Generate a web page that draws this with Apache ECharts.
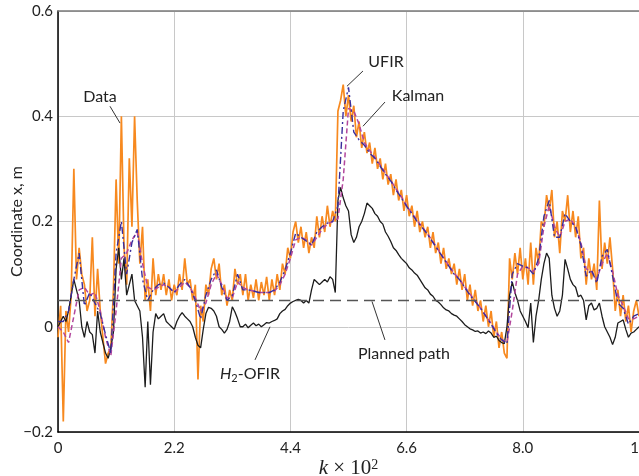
<!DOCTYPE html>
<html>
<head>
<meta charset="utf-8">
<script src="https://cdn.jsdelivr.net/npm/echarts@6.0.0/dist/echarts.min.js"></script>
<style>
  html, body { margin: 0; padding: 0; background: #fff; }
  #chart { width: 639px; height: 476px; }
</style>
</head>
<body>
<div id="chart"></div>
<script>
// x ticks (the original figure labels the 4th grid line "8.0")
const xTickLabels = ['0', '2.2', '4.4', '6.6', '8.0', '11'];
const yTickLabels = ['\u22120.2', '0', '0.2', '0.4', '0.6'];

// measured data, sampled every 0.05 (k x 10^2)
const dataStep = 0.05;
const measured = [
  -0.02, 0.04, -0.18, 0.03, -0.01, 0.06, 0.30, 0.09, 0.15, 0.10,
  0.08, 0.03, 0.05, 0.17, 0.02, 0.11, 0.03, -0.02, -0.07, -0.05,
  -0.04, 0.07, 0.28, 0.12, 0.40, 0.15, 0.08, 0.32, 0.19, 0.40,
  0.24, 0.12, 0.19, 0.05, 0.09, 0.03, 0.13, 0.06, 0.10, 0.07,
  0.10, 0.06, 0.09, 0.05, 0.08, 0.06, 0.10, 0.07, 0.13, 0.08,
  0.09, 0.05, 0.08, -0.10, 0.04, 0.01, 0.08, 0.06, 0.11, 0.13,
  0.09, 0.12, 0.06, 0.08, 0.04, 0.07, 0.05, 0.11, 0.08, 0.10,
  0.06, 0.10, 0.05, 0.08, 0.055, 0.09, 0.05, 0.085, 0.06, 0.095,
  0.05, 0.09, 0.06, 0.10, 0.07, 0.12, 0.10, 0.15, 0.13, 0.18,
  0.20, 0.16, 0.19, 0.15, 0.18, 0.14, 0.17, 0.15, 0.21, 0.17,
  0.21, 0.18, 0.23, 0.19, 0.22, 0.20, 0.41, 0.43, 0.46, 0.40,
  0.44, 0.39, 0.42, 0.36, 0.39, 0.34, 0.37, 0.33, 0.35, 0.31,
  0.34, 0.30, 0.32, 0.28, 0.31, 0.27, 0.29, 0.25, 0.28, 0.24,
  0.26, 0.22, 0.25, 0.21, 0.23, 0.19, 0.22, 0.18, 0.20, 0.17,
  0.19, 0.15, 0.18, 0.14, 0.16, 0.12, 0.15, 0.11, 0.13, 0.10,
  0.12, 0.08, 0.11, 0.07, 0.10, 0.05, 0.08, 0.04, 0.07, 0.03,
  0.05, 0.01, 0.04, 0.00, 0.03, -0.02, 0.01, -0.04, -0.01, -0.05,
  -0.06, 0.13, 0.09, 0.14, 0.10, 0.15, 0.09, 0.13, 0.08, 0.16,
  0.08, 0.15, 0.12, 0.20, 0.19, 0.25, 0.22, 0.26, 0.17, 0.20,
  0.14, 0.22, 0.20, 0.25, 0.18, 0.22, 0.17, 0.21, 0.13, 0.15,
  0.08, 0.13, 0.09, 0.12, 0.07, 0.24, 0.11, 0.16, 0.12, 0.17,
  0.11, 0.03, 0.07, 0.02, 0.06, 0.01, 0.04, -0.01, 0.03, 0.05,
  0.02
];

// H2-OFIR estimate, every 0.05
const h2ofir = [
  0.0, 0.01, 0.02, 0.01, 0.03, 0.06, 0.09, 0.07, 0.05, 0.0,
  -0.02, 0.01, -0.01, -0.015, -0.05, 0.03, -0.01, -0.03, -0.05, -0.06,
  -0.04, -0.01, 0.11, 0.15, 0.09, 0.13, 0.06, 0.08, 0.10, 0.05,
  0.04, 0.03, -0.02, -0.115, 0.01, -0.11, -0.01, 0.025, 0.015, 0.02,
  0.025, 0.01, 0.005, 0.0, -0.005, 0.01, 0.02, 0.027, 0.02, 0.015,
  0.01, 0.0, -0.02, -0.035, -0.04, -0.005, 0.025, 0.037, 0.035, 0.03,
  0.02, 0.0, -0.005, -0.012, -0.005, 0.01, 0.038, 0.028, 0.015, 0.0,
  0.0, 0.005, -0.002, 0.003, 0.007, 0.002, 0.005, 0.0, 0.004, 0.008,
  0.007, 0.01, 0.012, 0.015, 0.025, 0.03, 0.033, 0.04, 0.045, 0.048,
  0.05, 0.052, 0.05, 0.045, 0.05, 0.045, 0.07, 0.09, 0.085, 0.08,
  0.085, 0.09, 0.085, 0.095, 0.09, 0.065, 0.24, 0.265, 0.245, 0.23,
  0.22, 0.175, 0.16, 0.17, 0.19, 0.2, 0.215, 0.235, 0.23, 0.225,
  0.215, 0.21, 0.2, 0.195, 0.18, 0.172, 0.162, 0.15, 0.145, 0.137,
  0.13, 0.125, 0.12, 0.112, 0.108, 0.102, 0.098, 0.09, 0.082, 0.074,
  0.07, 0.062, 0.058, 0.05, 0.047, 0.042, 0.036, 0.032, 0.03, 0.025,
  0.022, 0.02, 0.015, 0.01, 0.004, 0.0, -0.004, -0.006, -0.009, -0.008,
  -0.012, -0.01, -0.013, -0.008, -0.012, -0.02, -0.018, -0.026, -0.03, -0.032,
  0.0, 0.06, 0.085, 0.065, 0.05, 0.03, 0.02, 0.01, -0.002, 0.045,
  -0.03, 0.02, 0.05, 0.09, 0.12, 0.14, 0.13, 0.06, 0.035, 0.02,
  0.03, 0.06, 0.128, 0.11, 0.09, 0.08, 0.075, 0.057, 0.06, 0.05,
  0.013, 0.04, 0.045, 0.032, 0.035, 0.045, 0.02, 0.0, -0.01, -0.02,
  -0.034, -0.02, 0.007, 0.01, 0.013, -0.005, -0.02, -0.012, -0.01, -0.005,
  0.0
];

// UFIR and Kalman estimates, every 0.1
const estStep = 0.1;
const ufir = [
  0.01, 0.01, 0.03, 0.09, 0.14, 0.04, 0.065, 0.045, 0.025, -0.015,
  -0.05, 0.14, 0.20, 0.10, 0.16, 0.185, 0.09, 0.05, 0.07, 0.08,
  0.083, 0.075, 0.065, 0.08, 0.09, 0.075, 0.05, 0.015, 0.06, 0.09,
  0.108, 0.075, 0.05, 0.06, 0.10, 0.07, 0.07, 0.068, 0.065, 0.065,
  0.065, 0.07, 0.085, 0.108, 0.14, 0.178, 0.17, 0.163, 0.155, 0.18,
  0.19, 0.197, 0.20, 0.23, 0.41, 0.455, 0.37, 0.355, 0.345, 0.33,
  0.32, 0.305, 0.29, 0.277, 0.26, 0.245, 0.229, 0.215, 0.2, 0.188,
  0.175, 0.16, 0.145, 0.13, 0.115, 0.10, 0.09, 0.075, 0.06, 0.048,
  0.035, 0.02, 0.005, -0.012, -0.025, -0.032, 0.10, 0.12, 0.115, 0.112,
  0.10, 0.13, 0.21, 0.24, 0.17, 0.17, 0.215, 0.20, 0.19, 0.155,
  0.096, 0.108, 0.083, 0.134, 0.147, 0.096, 0.045, 0.035, 0.005, 0.02,
  0.025
];
const kalman = [
  0.0, -0.01, -0.03, 0.02, 0.07, 0.075, 0.06, 0.065, 0.03, -0.02,
  -0.055, 0.03, 0.13, 0.14, 0.165, 0.18, 0.12, 0.075, 0.07, 0.075,
  0.08, 0.075, 0.065, 0.075, 0.085, 0.075, 0.055, 0.03, 0.045, 0.08,
  0.10, 0.08, 0.055, 0.055, 0.085, 0.075, 0.07, 0.068, 0.065, 0.065,
  0.065, 0.068, 0.08, 0.1, 0.13, 0.165, 0.17, 0.165, 0.155, 0.17,
  0.185, 0.195, 0.20, 0.205, 0.28, 0.415, 0.41, 0.385, 0.35, 0.335,
  0.322, 0.307, 0.292, 0.278, 0.262, 0.247, 0.23, 0.216, 0.202, 0.189,
  0.176, 0.161, 0.146, 0.131, 0.116, 0.102, 0.09, 0.076, 0.062, 0.049,
  0.036, 0.021, 0.006, -0.01, -0.024, -0.03, 0.03, 0.10, 0.115, 0.112,
  0.105, 0.12, 0.19, 0.23, 0.19, 0.17, 0.20, 0.205, 0.19, 0.16,
  0.11, 0.105, 0.09, 0.12, 0.14, 0.105, 0.06, 0.04, 0.015, 0.015,
  0.02
];

// planned path
const plannedX = [0, 11];
const plannedY = [0.05, 0.05];

// annotations: text position and leader line, in data units
const notes = [
  { text: 'Data', at: [0.795, 0.436], from: [0.984, 0.419], to: [1.174, 0.387] },
  { text: 'UFIR', at: [6.21, 0.503], from: [5.774, 0.486], to: [5.471, 0.457] },
  { text: 'Kalman', at: [6.816, 0.438], from: [6.191, 0.427], to: [5.774, 0.381] },
  { text: '{i|H}{s|2}-OFIR', at: [3.635, -0.0895], from: [3.73, -0.063], to: [4.014, 0.0] },
  { text: 'Planned path', at: [6.55, -0.051], from: [6.19, -0.025], to: [5.945, 0.048] }
];

const pairs = (vals, step) => vals.map((v, i) => [+(i * step).toFixed(2), v]);

const chart = echarts.init(document.getElementById('chart'));
const font = 'Lato';

chart.setOption({
  animation: false,
  grid: { left: 58, right: 0, top: 11, bottom: 44, outerBoundsMode: 'none', containLabel: false },
  xAxis: [{
    type: 'value', min: 0, max: 11, interval: 2.2,
    axisLine: { onZero: false, lineStyle: { color: '#000', width: 1.5 } },
    axisTick: { show: false },
    axisLabel: {
      color: '#222', fontSize: 15, fontFamily: font, margin: 9,
      formatter: v => xTickLabels[Math.round(v / 2.2)]
    },
    splitLine: { lineStyle: { color: '#c8c8c8', width: 1 } },
    name: '{i|k} \u00d7 10{s|2}',
    nameLocation: 'middle',
    nameGap: 26,
    nameMoveOverlap: false,
    nameTextStyle: {
      fontFamily: 'Liberation Serif', fontSize: 21, color: '#222',
      rich: {
        i: { fontFamily: 'Liberation Serif', fontStyle: 'italic', fontSize: 21, color: '#222' },
        s: { fontFamily: 'Liberation Serif', fontSize: 14, color: '#222', verticalAlign: 'top', lineHeight: 14 }
      }
    }
  }, {
    type: 'value', min: 0, max: 11, position: 'top',
    axisLine: { show: true, onZero: false, lineStyle: { color: '#7a7a7a', width: 1.5 } },
    axisTick: { show: false },
    axisLabel: { show: false },
    splitLine: { show: false }
  }],
  yAxis: {
    type: 'value', min: -0.2, max: 0.6, interval: 0.2,
    axisLine: { show: true, onZero: false, lineStyle: { color: '#000', width: 1.5 } },
    axisTick: { show: false },
    axisLabel: {
      color: '#222', fontSize: 15, fontFamily: font, margin: 5,
      formatter: v => yTickLabels[Math.round((v + 0.2) / 0.2)]
    },
    splitLine: { lineStyle: { color: '#c8c8c8', width: 1 } },
    name: 'Coordinate x, m',
    nameLocation: 'middle',
    nameGap: 33,
    nameMoveOverlap: false,
    nameTextStyle: { fontFamily: font, fontSize: 16, color: '#222' }
  },
  series: [
    {
      name: 'Data', type: 'line', showSymbol: false, silent: true,
      data: pairs(measured, dataStep),
      lineStyle: { color: '#f7891f', width: 1.7 }
    },
    {
      name: 'H2-OFIR', type: 'line', showSymbol: false, silent: true,
      data: pairs(h2ofir, dataStep),
      lineStyle: { color: '#1c1c1c', width: 1.3 }
    },
    {
      name: 'Kalman', type: 'line', showSymbol: false, silent: true,
      data: pairs(kalman, estStep),
      lineStyle: { color: '#b2469c', width: 1.5, type: [5, 3] }
    },
    {
      name: 'UFIR', type: 'line', showSymbol: false, silent: true,
      data: pairs(ufir, estStep),
      lineStyle: { color: '#3a2d9c', width: 1.4, type: [7, 3, 2, 3] }
    },
    {
      name: 'Planned path', type: 'line', showSymbol: false, silent: true,
      data: plannedX.map((x, i) => [x, plannedY[i]]),
      lineStyle: { color: '#555', width: 1.4, type: [11, 6] }
    }
  ]
});

// annotation labels placed via the chart's own coordinate system
const px = p => chart.convertToPixel({ gridIndex: 0 }, p);
const graphics = [];
notes.forEach(n => {
  const a = px(n.from), b = px(n.to), t = px(n.at);
  graphics.push({
    type: 'line', silent: true, z: 100,
    shape: { x1: a[0], y1: a[1], x2: b[0], y2: b[1] },
    style: { stroke: '#333', lineWidth: 1 }
  });
  graphics.push({
    type: 'text', silent: true, z: 100,
    x: t[0], y: t[1],
    style: {
      text: n.text, align: 'center', verticalAlign: 'middle',
      fontFamily: font, fontSize: 16, fill: '#222',
      rich: {
        i: { fontFamily: font, fontStyle: 'italic', fontSize: 16, fill: '#222', lineHeight: 20 },
        s: { fontFamily: font, fontSize: 11, fill: '#222', verticalAlign: 'bottom', lineHeight: 14 }
      }
    }
  });
});
chart.setOption({ graphic: graphics });
</script>
</body>
</html>
